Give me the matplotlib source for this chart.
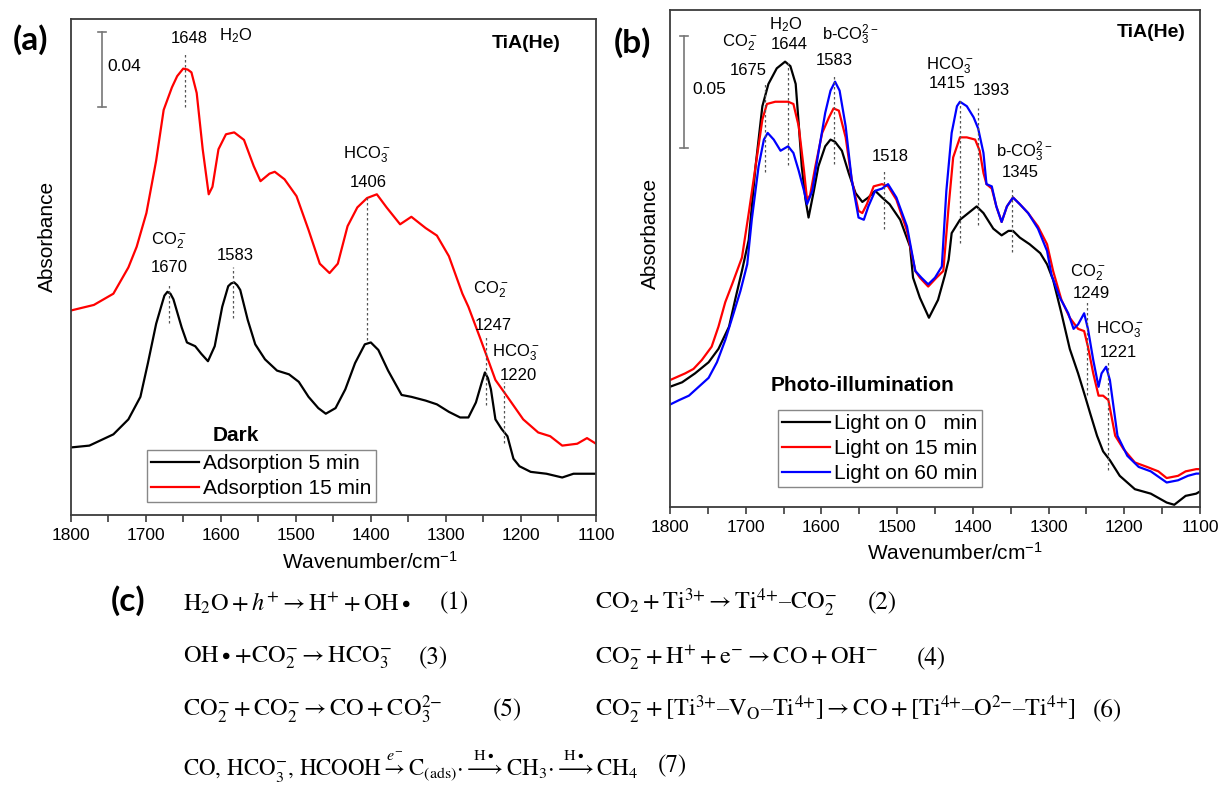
import matplotlib
matplotlib.use("Agg")
import matplotlib.pyplot as plt
from matplotlib.ticker import MultipleLocator

# ---- panel (a): dark adsorption spectra (wavenumber cm-1, absorbance)
wn_a_5 = [1800, 1775, 1743, 1723, 1707, 1697, 1686, 1678, 1675, 1671, 1667, 1663, 1652, 1645,
          1634, 1626, 1617, 1608, 1598, 1590, 1586, 1582, 1578, 1574, 1564, 1554, 1541, 1525,
          1509, 1496, 1483, 1470, 1460, 1447, 1434, 1421, 1408, 1400, 1390, 1377, 1359, 1346,
          1327, 1312, 1296, 1281, 1270, 1260, 1252, 1248, 1244, 1240, 1234, 1226, 1218, 1210,
          1202, 1187, 1166, 1145, 1130, 1114, 1100]
abs_a_5 = [0.036, 0.037, 0.043, 0.051, 0.063, 0.081, 0.102, 0.113, 0.117, 0.119, 0.118, 0.115,
           0.100, 0.092, 0.090, 0.086, 0.082, 0.090, 0.111, 0.122, 0.1235, 0.124, 0.1225, 0.120,
           0.104, 0.091, 0.083, 0.077, 0.075, 0.071, 0.063, 0.057, 0.054, 0.057, 0.067, 0.081,
           0.091, 0.092, 0.088, 0.077, 0.064, 0.063, 0.061, 0.059, 0.055, 0.052, 0.052, 0.060,
           0.071, 0.076, 0.073, 0.067, 0.051, 0.046, 0.042, 0.030, 0.026, 0.023, 0.022, 0.020,
           0.022, 0.022, 0.022]

wn_a_15 = [1800, 1769, 1743, 1723, 1712, 1699, 1686, 1676, 1665, 1658, 1650, 1644, 1639, 1632,
           1624, 1616, 1611, 1603, 1593, 1582, 1569, 1556, 1547, 1535, 1528, 1515, 1499, 1483,
           1468, 1455, 1444, 1431, 1418, 1405, 1392, 1379, 1361, 1346, 1327, 1312, 1296, 1278,
           1270, 1255, 1244, 1234, 1218, 1197, 1177, 1161, 1145, 1125, 1112, 1100]
abs_a_15 = [0.109, 0.112, 0.118, 0.132, 0.143, 0.161, 0.189, 0.216, 0.228, 0.234, 0.238, 0.2375,
            0.236, 0.225, 0.195, 0.171, 0.175, 0.195, 0.203, 0.204, 0.200, 0.186, 0.178, 0.182,
            0.183, 0.179, 0.170, 0.152, 0.134, 0.129, 0.134, 0.154, 0.164, 0.169, 0.171, 0.164,
            0.155, 0.159, 0.153, 0.149, 0.138, 0.118, 0.111, 0.095, 0.083, 0.072, 0.063, 0.051,
            0.044, 0.042, 0.037, 0.038, 0.041, 0.038]

# ---- panel (b): photo-illumination spectra
wn_b_0 = [1800, 1784, 1767, 1749, 1736, 1722, 1714, 1705, 1696, 1687, 1678, 1670, 1659, 1648,
          1641, 1634, 1630, 1626, 1621, 1617, 1610, 1604, 1595, 1588, 1582, 1573, 1564, 1555,
          1546, 1538, 1529, 1520, 1510, 1496, 1483, 1479, 1470, 1458, 1446, 1437, 1432, 1428,
          1417, 1406, 1395, 1386, 1373, 1362, 1353, 1347, 1338, 1325, 1311, 1302, 1294, 1283,
          1272, 1261, 1252, 1245, 1236, 1228, 1219, 1206, 1186, 1165, 1144, 1134, 1119, 1105, 1100]
abs_b_0 = [0.054, 0.056, 0.060, 0.065, 0.071, 0.081, 0.093, 0.106, 0.120, 0.153, 0.180, 0.190,
           0.197, 0.200, 0.198, 0.190, 0.172, 0.153, 0.138, 0.130, 0.142, 0.153, 0.162, 0.165,
           0.164, 0.160, 0.150, 0.141, 0.137, 0.139, 0.142, 0.139, 0.136, 0.129, 0.117, 0.103,
           0.094, 0.085, 0.093, 0.104, 0.111, 0.123, 0.129, 0.132, 0.135, 0.132, 0.125, 0.122,
           0.124, 0.124, 0.121, 0.118, 0.114, 0.109, 0.102, 0.087, 0.071, 0.060, 0.050, 0.042,
           0.032, 0.025, 0.021, 0.014, 0.008, 0.006, 0.002, 0.001, 0.005, 0.006, 0.007]

wn_b_15 = [1800, 1780, 1769, 1758, 1745, 1736, 1727, 1718, 1705, 1696, 1687, 1678, 1672, 1661,
           1652, 1644, 1637, 1630, 1623, 1619, 1615, 1608, 1599, 1590, 1584, 1577, 1568, 1560,
           1551, 1546, 1540, 1531, 1520, 1512, 1501, 1487, 1476, 1470, 1459, 1448, 1439, 1432,
           1426, 1417, 1408, 1397, 1391, 1386, 1382, 1375, 1369, 1362, 1355, 1347, 1338, 1327,
           1314, 1302, 1294, 1283, 1272, 1261, 1253, 1248, 1241, 1234, 1228, 1221, 1212, 1201,
           1186, 1170, 1155, 1144, 1129, 1119, 1105, 1100]
abs_b_15 = [0.057, 0.060, 0.062, 0.066, 0.072, 0.081, 0.092, 0.100, 0.112, 0.132, 0.153, 0.174,
            0.181, 0.182, 0.182, 0.182, 0.181, 0.171, 0.151, 0.138, 0.140, 0.153, 0.168, 0.175,
            0.179, 0.178, 0.166, 0.147, 0.133, 0.132, 0.136, 0.144, 0.145, 0.144, 0.138, 0.124,
            0.106, 0.103, 0.099, 0.103, 0.106, 0.135, 0.157, 0.166, 0.166, 0.165, 0.160, 0.150,
            0.145, 0.143, 0.135, 0.128, 0.135, 0.139, 0.136, 0.132, 0.126, 0.118, 0.106, 0.093,
            0.085, 0.080, 0.079, 0.072, 0.060, 0.050, 0.050, 0.048, 0.032, 0.026, 0.020, 0.018,
            0.016, 0.013, 0.014, 0.016, 0.017, 0.017]

wn_b_60 = [1800, 1788, 1775, 1762, 1749, 1738, 1727, 1716, 1707, 1698, 1692, 1683, 1676, 1671,
           1663, 1654, 1644, 1637, 1630, 1623, 1619, 1612, 1604, 1595, 1588, 1582, 1576, 1568,
           1560, 1551, 1544, 1538, 1529, 1520, 1512, 1501, 1487, 1476, 1468, 1459, 1450, 1441,
           1435, 1428, 1421, 1417, 1408, 1399, 1393, 1386, 1382, 1375, 1369, 1362, 1355, 1347,
           1338, 1327, 1314, 1302, 1296, 1285, 1274, 1267, 1261, 1253, 1248, 1241, 1234, 1230,
           1224, 1219, 1209, 1196, 1181, 1165, 1144, 1129, 1116, 1105, 1100]
abs_b_60 = [0.046, 0.048, 0.050, 0.054, 0.058, 0.065, 0.075, 0.087, 0.097, 0.109, 0.129, 0.153,
            0.165, 0.168, 0.165, 0.160, 0.162, 0.159, 0.151, 0.142, 0.136, 0.142, 0.159, 0.177,
            0.187, 0.191, 0.187, 0.171, 0.147, 0.130, 0.129, 0.135, 0.142, 0.143, 0.145, 0.139,
            0.126, 0.106, 0.103, 0.100, 0.103, 0.108, 0.142, 0.168, 0.180, 0.182, 0.180, 0.175,
            0.170, 0.159, 0.145, 0.144, 0.135, 0.128, 0.135, 0.139, 0.136, 0.132, 0.125, 0.115,
            0.104, 0.094, 0.087, 0.080, 0.082, 0.087, 0.080, 0.066, 0.054, 0.060, 0.063, 0.057,
            0.032, 0.023, 0.018, 0.016, 0.011, 0.012, 0.014, 0.015, 0.015]

labels_a = ["Adsorption 5 min", "Adsorption 15 min"]
labels_b = ["Light on 0   min", "Light on 15 min", "Light on 60 min"]

# peak marks: (wavenumber, y from, y to)
marks_a = [(1648, 0.2175, 0.2468), (1405, 0.0933, 0.1695), (1669, 0.1023, 0.1237),
           (1583, 0.1050, 0.1322), (1247, 0.0586, 0.0959), (1222, 0.0384, 0.0709)]
marks_b = [(1675, 0.1504, 0.1899), (1644, 0.1536, 0.1998), (1583, 0.1540, 0.1940),
           (1518, 0.1248, 0.1509), (1417, 0.1185, 0.1827), (1393, 0.1266, 0.1792),
           (1348, 0.1145, 0.1437), (1249, 0.0503, 0.0929), (1222, 0.0166, 0.0651)]

# peak labels: (text, wavenumber, absorbance)
text_a = [("1648", 1642, 0.2542), ("H$_2$O", 1580, 0.2558),
          ("HCO$_3^-$", 1405, 0.1919), ("1406", 1404, 0.1775),
          ("CO$_2^-$", 1669, 0.1460), ("1670", 1669, 0.1317),
          ("1583", 1581, 0.1386),
          ("CO$_2^-$", 1241, 0.1200), ("1247", 1237, 0.1013),
          ("HCO$_3^-$", 1207, 0.0864), ("1220", 1204, 0.0746)]
text_b = [("CO$_2^-$", 1708, 0.2083), ("1675", 1697, 0.1962),
          ("H$_2$O", 1647, 0.2164), ("1644", 1643, 0.2079),
          ("b-CO$_3^{2-}$", 1562, 0.2119), ("1583", 1583, 0.2007),
          ("1518", 1509, 0.1576),
          ("HCO$_3^-$", 1431, 0.1980), ("1415", 1434, 0.1904), ("1393", 1376, 0.1872),
          ("b-CO$_3^{2-}$", 1332, 0.1594), ("1345", 1338, 0.1504),
          ("CO$_2^-$", 1248, 0.1051), ("1249", 1244, 0.0961),
          ("HCO$_3^-$", 1206, 0.0795), ("1221", 1208, 0.0696)]

equations = [
    (r"$\mathrm{H_2O} + h^{+} \rightarrow \mathrm{H^{+}} + \mathrm{OH}\bullet$", "(1)"),
    (r"$\mathrm{CO_2} + \mathrm{Ti^{3{+}}} \rightarrow \mathrm{Ti^{4{+}}}–\mathrm{CO_2^{-}}$", "(2)"),
    (r"$\mathrm{OH}\bullet\!+\!\mathrm{CO_2^{-}} \rightarrow \mathrm{HCO_3^{-}}$", "(3)"),
    (r"$\mathrm{CO_2^{-}} + \mathrm{H^{+}} + \mathrm{e^{-}} \rightarrow \mathrm{CO} + \mathrm{OH^{-}}$", "(4)"),
    (r"$\mathrm{CO_2^{-}} + \mathrm{CO_2^{-}} \rightarrow \mathrm{CO} + \mathrm{CO_3^{2{-}}}$", "(5)"),
    (r"$\mathrm{CO_2^{-}} + [\mathrm{Ti^{3{+}}}–\mathrm{V_O}–\mathrm{Ti^{4{+}}}] \rightarrow \mathrm{CO}"
     r" + [\mathrm{Ti^{4{+}}}–\mathrm{O^{2{-}}}–\mathrm{Ti^{4{+}}}]$", "(6)"),
    (r"$\mathrm{CO,\,HCO_3^{-},\,HCOOH}\overset{e^{-}}{\rightarrow}\mathrm{C_{(ads)}}{\cdot}"
     r"\overset{\mathrm{H}\bullet}{\longrightarrow}\mathrm{CH_3}{\cdot}"
     r"\overset{\mathrm{H}\bullet}{\longrightarrow}\mathrm{CH_4}$", "(7)"),
]

plt.rcParams["font.family"] = ["Liberation Sans", "DejaVu Sans"]
plt.rcParams["mathtext.fontset"] = "custom"
plt.rcParams["mathtext.rm"] = "Liberation Sans"
plt.rcParams["mathtext.it"] = "Liberation Sans:italic"
plt.rcParams["mathtext.bf"] = "Liberation Sans:bold"

W, H = 1224, 792
fig = plt.figure(figsize=(W / 100, H / 100), dpi=100)
ax_a = fig.add_axes([70.6 / W, 1 - 515 / H, 525.4 / W, 495.7 / H])
ax_b = fig.add_axes([670 / W, 1 - 507 / H, 530 / W, 497 / H])


def style(ax, ytop):
    ax.set_xlim(1800, 1100)
    ax.set_ylim(0, ytop)
    ax.xaxis.set_major_locator(MultipleLocator(100))
    ax.xaxis.set_minor_locator(MultipleLocator(50))
    ax.tick_params(axis="x", which="both", direction="out", length=5, width=1.2,
                   color="#3c3c3c", labelsize=12.5, pad=4)
    ax.set_yticks([])
    for sp in ax.spines.values():
        sp.set_color("#3c3c3c")
        sp.set_linewidth(1.3)


def scale_bar(ax, x, y0, y1, txt, tx, ty):
    kw = dict(color="#777777", lw=1.2)
    ax.plot([x, x], [y0, y1], **kw)
    ax.plot([x - 5, x + 5], [y0, y0], **kw)
    ax.plot([x - 5, x + 5], [y1, y1], **kw)
    ax.text(tx, ty, txt, fontsize=12.5, ha="left", va="center")


def marks(ax, lst, txt):
    for w, y0, y1 in lst:
        ax.plot([w, w], [y0, y1], ls=(0, (2, 2)), color="#555555", lw=0.9)
    for s, w, y in txt:
        ax.text(w, y, s, fontsize=12, ha="center", va="center")


leg_kw = dict(loc="lower left", borderaxespad=0, fontsize=15, fancybox=False,
              edgecolor="#888888", framealpha=1, handlelength=2.3, handletextpad=0.2,
              labelspacing=0.28, borderpad=0.2)

# (a)
style(ax_a, 0.2643)
la1, = ax_a.plot(wn_a_5, abs_a_5, color="black", lw=1.6, label=labels_a[0])
la2, = ax_a.plot(wn_a_15, abs_a_15, color="#ff0000", lw=1.6, label=labels_a[1])
marks(ax_a, marks_a, text_a)
scale_bar(ax_a, 1758, 0.2175, 0.2575, "0.04", 1751, 0.239)
ax_a.text(1193, 0.2516, "TiA(He)", fontsize=14, fontweight="bold", ha="center", va="center")
ax_a.text(0.315, 0.161, "Dark", transform=ax_a.transAxes, fontsize=15, fontweight="bold",
          ha="center", va="center")
ax_a.legend(handles=[la1, la2], bbox_to_anchor=(0.145, 0.026), **leg_kw)
ax_a.set_xlabel("Wavenumber/cm$^{-1}$", fontsize=15)
ax_a.xaxis.set_label_coords(0.569, -0.094)
ax_a.xaxis.label.set_va("center")
ax_a.set_ylabel("Absorbance", fontsize=15)
ax_a.yaxis.set_label_coords(-0.045, 0.561)
ax_a.yaxis.label.set_va("center")

# (b)
style(ax_b, 0.2232)
lb1, = ax_b.plot(wn_b_0, abs_b_0, color="black", lw=1.6, label=labels_b[0])
lb2, = ax_b.plot(wn_b_15, abs_b_15, color="#ff0000", lw=1.6, label=labels_b[1])
lb3, = ax_b.plot(wn_b_60, abs_b_60, color="#0000ff", lw=1.6, label=labels_b[2])
marks(ax_b, marks_b, text_b)
scale_bar(ax_b, 1781.5, 0.1612, 0.2115, "0.05", 1771, 0.1873)
ax_b.text(1165, 0.2133, "TiA(He)", fontsize=14, fontweight="bold", ha="center", va="center")
ax_b.text(0.364, 0.245, "Photo-illumination", transform=ax_b.transAxes, fontsize=15,
          fontweight="bold", ha="center", va="center")
ax_b.legend(handles=[lb1, lb2, lb3], bbox_to_anchor=(0.204, 0.040), **leg_kw)
ax_b.set_xlabel("Wavenumber/cm$^{-1}$", fontsize=15)
ax_b.xaxis.set_label_coords(0.538, -0.093)
ax_b.xaxis.label.set_va("center")
ax_b.set_ylabel("Absorbance", fontsize=15)
ax_b.yaxis.set_label_coords(-0.036, 0.551)
ax_b.yaxis.label.set_va("center")

# panel letters
for s, x, y in [("(a)", 31, 40), ("(b)", 632, 43), ("(c)", 128, 601)]:
    fig.text(x / W, 1 - y / H, s, family=["Lato", "DejaVu Sans"], fontweight="bold",
             fontsize=24, ha="center", va="center")

# (c) reaction equations
eq_pos = [(183, 603, 440, 17.5), (595, 603, 868, 17.5), (183, 658, 419, 17.5),
          (595, 658, 917, 17.5), (183, 710, 493, 17.5), (595, 710, 1093, 17.5),
          (183, 766, 658, 16.5)]
for (eq, num), (x, y, xn, fs) in zip(equations, eq_pos):
    fig.text(x / W, 1 - y / H, eq, fontsize=fs, math_fontfamily="stix",
             ha="left", va="center")
    fig.text(xn / W, 1 - y / H, num, fontsize=18, family="STIXGeneral",
             ha="left", va="center")

fig.savefig("out.png", dpi=100)
